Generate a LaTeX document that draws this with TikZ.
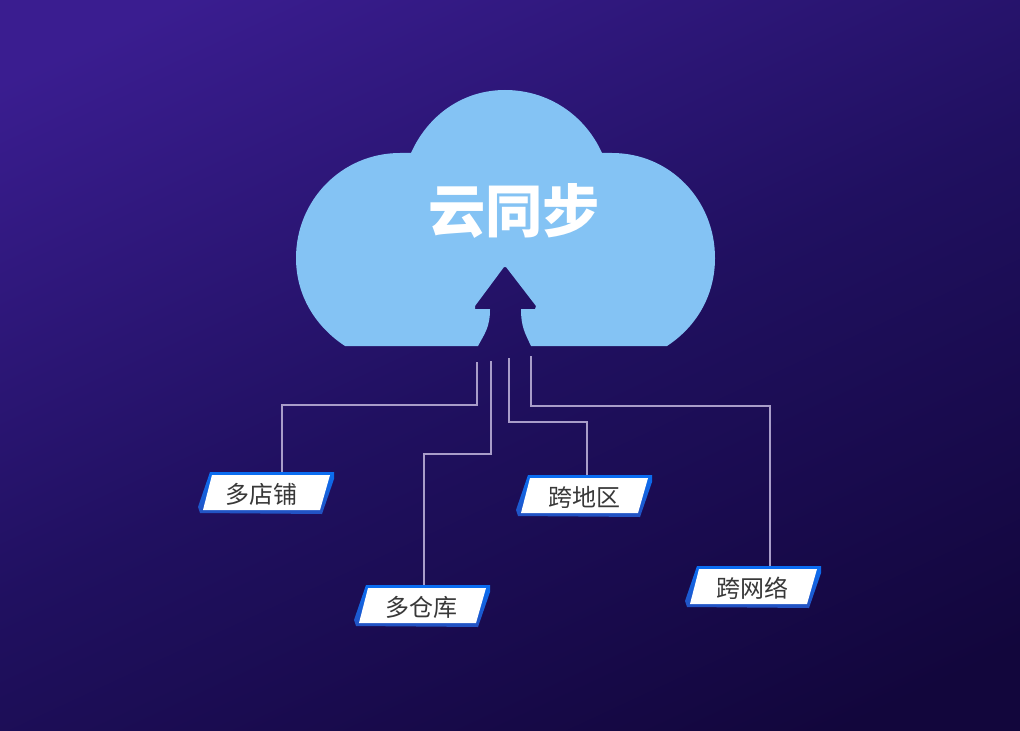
\documentclass[tikz,border=0pt]{standalone}
\usepackage{fontspec}
\setmainfont{Noto Sans CJK SC}
\definecolor{bgA}{HTML}{3A1D90}
\definecolor{bgB}{HTML}{201060}
\definecolor{bgC}{HTML}{12063C}
\definecolor{cloudc}{HTML}{84C3F4}
\definecolor{wirec}{HTML}{A99DC9}
\definecolor{edgeT}{HTML}{0A6EF2}
\definecolor{edgeB}{HTML}{2352C2}
\tikzset{
  wire/.style={draw=wirec,line width=0.8pt,line join=miter},
  tagtext/.style={inner sep=0pt,minimum width=102pt,minimum height=31pt,text=black!78,font=\fontsize{18}{18}\selectfont},
}
% name, centre x, centre y, text x-offset, text
\newcommand{\tagbox}[5]{%
  \shade[top color=edgeT,bottom color=edgeB] (#2-56,#3-21) -- (#2+68,#3-21) -- (#2+68,#3-14) -- (#2+56,#3+21) -- (#2-66,#3+20) -- (#2-68,#3+14) -- cycle;
  \fill[white] (#2-54,#3-18) -- (#2+64,#3-18) -- (#2+54,#3+17) -- (#2-63,#3+17) -- cycle;
  \node[tagtext] (#1) at (#2,#3) {};
  \node[tagtext] (#1t) at (#2+#4,#3+1) {#5};
}
\begin{document}
\begin{tikzpicture}[x=0.75pt,y=-0.75pt]
\useasboundingbox (0,0) rectangle (1020,731);
\begin{scope}
\clip (0,0) rectangle (1020,731);
\shade[shading=axis,top color=bgA,bottom color=bgC,middle color=bgB,shading angle=25] (-60,-60) rectangle (1080,791);
\end{scope}
% cloud with the arrow cut out of it
\fill[cloudc] (345,346)
  .. controls (316,327) and (296,296) .. (296,258)
  .. controls (296,200) and (342,153) .. (400,153)
  -- (411,153)
  .. controls (428,115) and (463,90) .. (505,90)
  .. controls (548,90) and (585,115) .. (602,153)
  -- (612,153)
  .. controls (670,153) and (715,200) .. (715,258)
  .. controls (715,296) and (696,327) .. (667,346)
  -- (531,346)
  .. controls (525,333) and (521,327) .. (521,309)
  -- (535,309) -- (536,306) -- (506,267) -- (504,267) -- (475,306) -- (475,309) -- (490,309)
  .. controls (490,327) and (485,333) .. (478,346)
  -- cycle;
\node[inner sep=0pt,text=white,font=\fontsize{43}{43}\selectfont\bfseries] (title) at (514,211) {云同步};
\tagbox{shop}{266}{493}{-5}{多店铺}
\tagbox{depot}{422}{606}{-1}{多仓库}
\tagbox{region}{584}{496}{0}{跨地区}
\tagbox{net}{753}{587}{-1}{跨网络}
\coordinate (s1) at (477,362);
\coordinate (s2) at (491,361);
\coordinate (s3) at (509,358);
\coordinate (s4) at (531,356);
\draw[wire] (s1) -- ++(0,43) -| ([xshift=12pt]shop.north);
\draw[wire] (s2) -- ++(0,93) -| ([xshift=1.5pt]depot.north);
\draw[wire] (s3) -- ++(0,64) -| ([xshift=2.25pt]region.north);
\draw[wire] (s4) -- ++(0,50) -| ([xshift=12.75pt]net.north);
\end{tikzpicture}
\end{document}
